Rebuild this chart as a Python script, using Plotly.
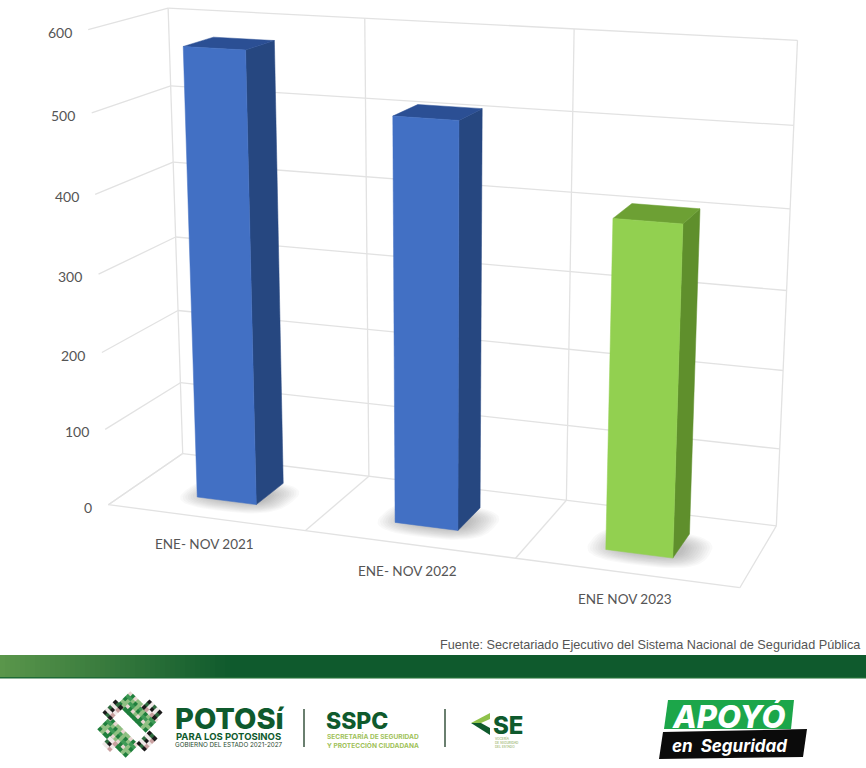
import numpy as np
import plotly.graph_objects as go

categories = ["ENE- NOV 2021", "ENE- NOV 2022", "ENE NOV 2023"]
values = [576, 508, 406]
value_ticks = [0, 100, 200, 300, 400, 500, 600]
front_colors = ["#4270C4", "#4270C4", "#92D050"]
side_colors = ["#264780", "#264780", "#5F8F2C"]
top_colors = ["#2B4F94", "#2B4F94", "#6DA034"]
source_text = "Fuente: Secretariado Ejecutivo del Sistema Nacional de Seguridad Pública"

GRID = "#E2E2E2"
U0, U1 = 0.345, 0.65
D0, D1 = 0.30, 0.70

# Calibration of the chart's perspective: (category pos, depth, value/100) -> page position
calib = [
    (0,1,6,168,8),(1,1,6,365,18),(2,1,6,575,29),(3,1,6,797,40),
    (0,1,0,183,454),(1,1,0,368,476),(2,1,0,567,500),(3,1,0,776,527),
    (0,0,0,108,504),(1,0,0,306,530),(2,0,0,516,558),(3,0,0,740,588),
    (0,0,6,88,30),(0,0,3,98,275),(0,1,3,176,237),(3,1,3,786,290),
]
A, b = [], []
for u, d, v, px, py in calib:
    A.append([u,d,v,1,0,0,0,0,-px*u,-px*d,-px*v]); b.append(px)
    A.append([0,0,0,0,u,d,v,1,-py*u,-py*d,-py*v]); b.append(py)
h = np.linalg.lstsq(np.array(A,float), np.array(b,float), rcond=None)[0]

def project(u, d, val):
    v = val/100
    w = h[8]*u+h[9]*d+h[10]*v+1
    return (h[0]*u+h[1]*d+h[2]*v+h[3])/w, (h[4]*u+h[5]*d+h[6]*v+h[7])/w

fig = go.Figure()

def line(p, q, color=GRID, width=1.3):
    fig.add_trace(go.Scatter(x=[p[0],q[0]], y=[p[1],q[1]], mode="lines",
                             line=dict(color=color,width=width), hoverinfo="skip"))

def poly(pts, color, lw=0, lc=None):
    xs = [p[0] for p in pts]+[pts[0][0]]
    ys = [p[1] for p in pts]+[pts[0][1]]
    fig.add_trace(go.Scatter(x=xs, y=ys, mode="lines", fill="toself", fillcolor=color,
                             line=dict(color=lc or color,width=lw), hoverinfo="skip"))

# walls and floor grid
for t in value_ticks:
    line(project(0,0,t), project(0,1,t))
    line(project(0,1,t), project(3,1,t))
for u in range(4):
    line(project(u,1,0), project(u,1,600))
    line(project(u,0,0), project(u,1,0))
line(project(0,0,0), project(3,0,0))

# bars with a soft floor shadow
th = np.linspace(0, 2*np.pi, 60)
for i, val in enumerate(values):
    a, c = i+U0, i+U1
    uc, dc = (a+c)/2+0.025, (D0+D1)/2-0.08
    for k in range(12):
        ru = 0.27-0.011*k
        rd = 0.29-0.015*k
        pts = [project(uc+ru*np.sign(np.cos(t))*abs(np.cos(t))**0.7,
                       dc+rd*np.sign(np.sin(t))*abs(np.sin(t))**0.7, 0) for t in th]
        poly(pts, "rgba(80,80,80,0.035)")
    poly([project(c,D0,0),project(c,D1,0),project(c,D1,val),project(c,D0,val)], side_colors[i], 0.5)
    poly([project(a,D0,val),project(c,D0,val),project(c,D1,val),project(a,D1,val)], top_colors[i], 0.5)
    poly([project(a,D0,0),project(c,D0,0),project(c,D0,val),project(a,D0,val)], front_colors[i], 0.5)

ann = []
def text(x, y, s, size, color="#555555", family="Lato", anchor="center", bold=False, italic=False, weight=None, yanchor="middle"):
    t = s
    if bold: t = f"<b>{t}</b>"
    if italic: t = f"<i>{t}</i>"
    f = dict(size=size,color=color,family=family)
    if weight: f["weight"] = weight
    ann.append(dict(x=x,y=y,text=t,showarrow=False,xref="x",yref="y",xanchor=anchor,yanchor=yanchor,align="left",font=f))

for t in value_ticks:
    p = project(0,0,t)
    text(p[0]-14.5, p[1]+2.5, str(t), 14, anchor="right")
for i, c in enumerate(categories):
    p = project(i+0.5,0,0)
    text(p[0]-1, p[1]+26.5, c, 13.5)

text(862.5, 645, source_text, 12.7, color="#555555", family="Liberation Sans", anchor="right")

# footer band
shapes = []
stops = np.linspace(0, 230, 47)
for s0, s1 in zip(stops[:-1], stops[1:]):
    t = s0/230
    col = f"rgb({int(90-75*t)},{int(150-60*t)},{int(75-30*t)})"
    shapes.append(dict(type="rect",x0=s0,x1=s1+1,y0=655,y1=678,fillcolor=col,line_width=0,layer="below"))
shapes.append(dict(type="rect",x0=230,x1=866,y0=655,y1=678,fillcolor="#0F5A2D",line_width=0,layer="below"))
shapes.append(dict(type="rect",x0=0,x1=866,y0=677,y1=678.5,fillcolor="#1E6B35",line_width=0,layer="below"))
for xv in (304,445):
    shapes.append(dict(type="line",x0=xv,x1=xv,y0=709,y1=747,line=dict(color="#39543f",width=1.5)))

# POTOSI emblem: checkered lobes of small diamonds
ex, ey, ec = [], [], []
def lobe(cx, cy, n_long, n_wide, palette, along=1):
    s = 3.6
    for m in range(-n_long, n_long+1):
        for q in range(-n_wide, n_wide+1):
            col = palette[(m*m+q+abs(m*q)) % len(palette)]
            ex.append(cx + (m*s - along*q*s)*0.707)
            ey.append(cy + (along*m*s + q*s)*0.707)
            ec.append(col)
green = ["#1F7F3C","#8FBF82","#1F7F3C","#E8D5D0","#3E9A55"]
dark = ["#1A1A1A","#F0E8E8","#1A1A1A","#C9A0A0","#2F6B3F"]
lobe(138,712,5,2,green)
lobe(118,737,5,2,green)
lobe(113,710,2,1,dark,along=-1)
lobe(152,710,2,1,dark,along=1)
lobe(110,744,1,1,dark,along=-1)
lobe(147,741,2,1,dark,along=-1)
fig.add_trace(go.Scatter(x=ex,y=ey,mode="markers",hoverinfo="skip",
                         marker=dict(symbol="diamond",size=4.5,color=ec,line_width=0)))

text(173, 718, "POTOSí", 29, color="#0F5A2D", family="Inter", anchor="left", weight=800)
text(174, 736, "PARA LOS POTOSINOS", 9.5, color="#0F5A2D", family="Inter", anchor="left", bold=True)
text(173, 745, "GOBIERNO DEL ESTADO 2021-2027", 6.3, color="#1f4a2e", family="Inter", anchor="left")
text(324, 721, "SSPC", 23, color="#0F5A2D", family="Inter", anchor="left", weight=800)
text(325, 740.5, "SECRETARÍA DE SEGURIDAD<br>Y PROTECCIÓN CIUDADANA", 6.6, color="#9fc25a", family="Inter", anchor="left", bold=True)
text(491, 725, "SE", 24, color="#0F5A2D", family="Inter", anchor="left", weight=800)
text(493, 742, "VOCERÍA<br>DE SEGURIDAD<br>DEL ESTADO", 3.2, color="#7fa64a", family="Inter", anchor="left")
poly([(471,723),(490,713),(490,719),(481,723)], "#8fc24a")
poly([(471,723),(481,723),(490,728),(490,735)], "#0F5A2D")

# APOYO badge
poly([(668,700),(794,700),(791,729),(664,729)], "#1CA64A")
poly([(663,732),(807,729),(803,757),(659,759)], "#0B0B0B")
text(728, 716, "APOYÓ", 31, color="white", family="Inter", italic=True, weight=800)
text(729, 746, "en  Seguridad", 17, color="white", family="Inter", bold=True, italic=True)

fig.update_layout(width=866, height=768, margin=dict(l=0,r=0,t=0,b=0), showlegend=False,
                  paper_bgcolor="white", plot_bgcolor="white", annotations=ann, shapes=shapes,
                  xaxis=dict(range=[0,866],visible=False,fixedrange=True),
                  yaxis=dict(range=[768,0],visible=False,fixedrange=True))
fig.write_html("out.html", config={"displayModeBar":False},
               post_script="document.body.style.margin='0';document.body.style.overflow='hidden';")
